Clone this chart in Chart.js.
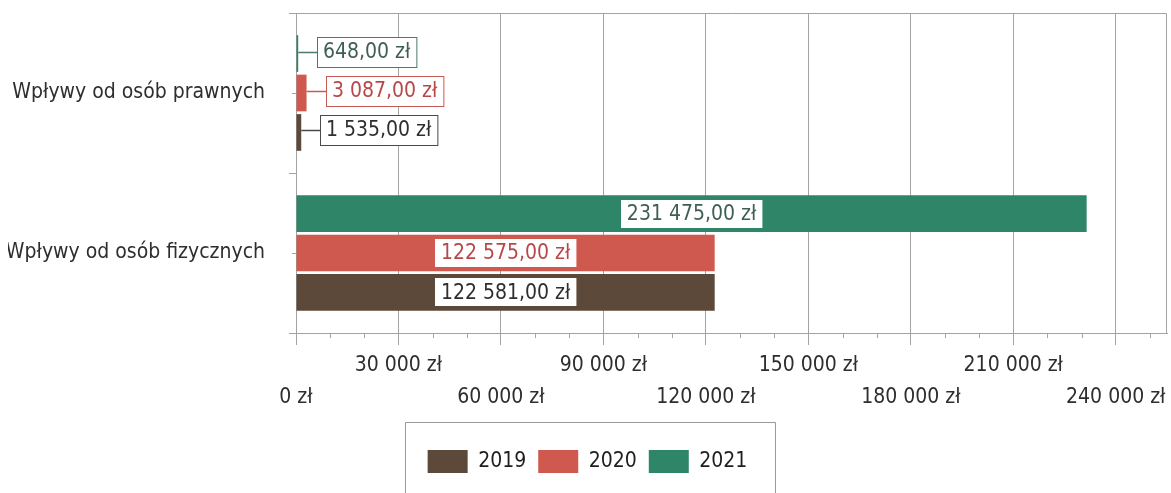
<!DOCTYPE html>
<html>
<head>
<meta charset="utf-8">
<script src="https://cdn.jsdelivr.net/npm/chart.js@4.4.1/dist/chart.umd.min.js"></script>
<style>
  html, body { margin: 0; padding: 0; background: #ffffff; }
  #wrap { width: 1171px; height: 493px; position: relative; }
</style>
</head>
<body>
<div id="wrap"><canvas id="c" width="1171" height="493"></canvas></div>
<script>
const categories = ['Wpływy od osób prawnych', 'Wpływy od osób fizycznych'];
const years = ['2019', '2020', '2021'];
const values2019 = [1535, 122581];
const values2020 = [3087, 122575];
const values2021 = [648, 231475];
const xTickValues = [0, 30000, 60000, 90000, 120000, 150000, 180000, 210000, 240000];
const xMin = 0;
const xMax = 255000;
const xMinorStep = 10000;

const FONT = "'DejaVu Sans Condensed', 'DejaVu Sans', sans-serif";
const seriesStyle = {
  '2019': { fill: '#5d4939', text: '#2e2e2e', border: '#4a4a4a' },
  '2020': { fill: '#cf594f', text: '#b8474a', border: '#c65a55' },
  '2021': { fill: '#2f8567', text: '#3f5f54', border: '#4b7a6a' }
};

function groupThousands(n) {
  return String(n).replace(/\B(?=(\d{3})+(?!\d))/g, ' ');
}
function fmtTick(v) { return groupThousands(v) + ' zł'; }
function fmtValue(v) {
  const s = v.toFixed(2).split('.');
  return groupThousands(s[0]) + ',' + s[1] + ' zł';
}

const frameAndExtras = {
  id: 'frameAndExtras',
  beforeDatasetsDraw(chart) {
    const { ctx, chartArea: a } = chart;
    ctx.save();
    ctx.strokeStyle = '#a3a3a3';
    ctx.lineWidth = 1;
    ctx.beginPath();
    ctx.moveTo(a.left, a.top + 0.5);
    ctx.lineTo(Math.round(a.right) - 0.5, a.top + 0.5);
    ctx.lineTo(Math.round(a.right) - 0.5, a.bottom);
    ctx.stroke();
    // minor ticks on x axis
    const xs = chart.scales.x;
    for (let v = xMin; v <= xMax; v += xMinorStep) {
      if (xTickValues.includes(v)) continue;
      const px = Math.round(xs.getPixelForValue(v)) + 0.5;
      ctx.beginPath();
      ctx.moveTo(px, a.bottom);
      ctx.lineTo(px, a.bottom + 5);
      ctx.stroke();
    }
    // tick marks on y axis (category boundaries and centres)
    const n = categories.length;
    const step = (a.bottom - a.top) / n;
    for (let k = 0; k <= 2 * n; k++) {
      const py = Math.round(a.top + k * step / 2) + 0.5;
      const len = k % 2 === 0 ? 7 : 4;
      ctx.beginPath();
      ctx.moveTo(a.left - len, py);
      ctx.lineTo(a.left, py);
      ctx.stroke();
    }
    ctx.restore();
  },
  afterDatasetsDraw(chart) {
    const ctx = chart.ctx;
    ctx.save();
    ctx.font = '21px ' + FONT;
    ctx.textBaseline = 'middle';
    chart.data.datasets.forEach((ds, di) => {
      const meta = chart.getDatasetMeta(di);
      const st = seriesStyle[ds.label];
      meta.data.forEach((bar, i) => {
        const txt = fmtValue(ds.data[i]);
        const tw = ctx.measureText(txt).width;
        const bw = tw + 12;
        const len = Math.abs(bar.x - bar.base);
        if (len < bw + 20) {
          const x0 = Math.round(bar.x + 19);
          const h = 30;
          const y = Math.round(bar.y) - 2;
          ctx.strokeStyle = st.border;
          ctx.lineWidth = 1.5;
          ctx.beginPath();
          ctx.moveTo(bar.x, y + 0.5);
          ctx.lineTo(x0, y + 0.5);
          ctx.stroke();
          ctx.fillStyle = '#ffffff';
          ctx.fillRect(x0, y - h / 2, bw, h);
          ctx.lineWidth = 1;
          ctx.strokeRect(x0 + 0.5, y - h / 2 + 0.5, bw, h);
          ctx.fillStyle = st.text;
          ctx.textAlign = 'left';
          ctx.fillText(txt, x0 + 6, y + 1);
        } else {
          const cx = (bar.x + bar.base) / 2;
          const h = 28;
          ctx.fillStyle = '#ffffff';
          ctx.fillRect(Math.round(cx - bw / 2), Math.round(bar.y - h / 2), bw, h);
          ctx.fillStyle = st.text;
          ctx.textAlign = 'center';
          ctx.fillText(txt, cx, bar.y + 1);
        }
      });
    });
    ctx.restore();
  },
  afterDraw(chart) {
    const lg = chart.legend;
    if (!lg || !lg.legendHitBoxes || !lg.legendHitBoxes.length) return;
    const hb = lg.legendHitBoxes;
    const first = hb[0], last = hb[hb.length - 1];
    const ctx = chart.ctx;
    ctx.save();
    ctx.strokeStyle = '#9a9a9a';
    ctx.lineWidth = 1;
    const left = Math.round(first.left - 23) + 0.5;
    const right = Math.round(last.left + last.width + 28) + 0.5;
    const top = Math.round(first.top - 28) + 0.5;
    ctx.beginPath();
    ctx.moveTo(left, chart.height + 5);
    ctx.lineTo(left, top);
    ctx.lineTo(right, top);
    ctx.lineTo(right, chart.height + 5);
    ctx.stroke();
    ctx.restore();
  }
};

const datasets = [
  { label: years[2], data: values2021 },
  { label: years[1], data: values2020 },
  { label: years[0], data: values2019 }
].map(d => Object.assign(d, {
  backgroundColor: seriesStyle[d.label].fill,
  borderColor: seriesStyle[d.label].fill,
  borderWidth: 0,
  categoryPercentage: 0.74,
  barPercentage: 0.93
}));

new Chart(document.getElementById('c'), {
  type: 'bar',
  data: { labels: categories, datasets },
  options: {
    indexAxis: 'y',
    responsive: false,
    animation: false,
    layout: { padding: { top: 13, right: 4, bottom: 10, left: 8 } },
    plugins: {
      legend: {
        position: 'bottom',
        reverse: true,
        labels: {
          boxWidth: 40,
          boxHeight: 23,
          padding: 12,
          color: '#1e1e1e',
          font: { family: FONT, size: 21 }
        }
      },
      tooltip: { enabled: false }
    },
    scales: {
      x: {
        type: 'linear',
        min: xMin,
        max: xMax,
        afterBuildTicks(scale) { scale.ticks = xTickValues.map(v => ({ value: v })); },
        afterFit(scale) { scale.height = 105; },
        ticks: {
          maxRotation: 0,
          autoSkip: false,
          padding: 5,
          color: '#2e2e2e',
          font: { family: FONT, size: 21, lineHeight: 32 / 21 },
          callback(value, index) {
            const t = fmtTick(value);
            return index % 2 === 1 ? [t, ''] : ['', t];
          }
        },
        grid: { color: '#a3a3a3', lineWidth: 1, tickLength: 12 },
        border: { color: '#a3a3a3', width: 1 }
      },
      y: {
        afterFit(scale) { scale.width = 288; },
        ticks: {
          padding: 0,
          color: '#2e2e2e',
          font: { family: FONT, size: 21 }
        },
        grid: { drawOnChartArea: false, tickColor: 'rgba(0,0,0,0)', tickLength: 31 },
        border: { color: '#a3a3a3', width: 1 }
      }
    }
  },
  plugins: [frameAndExtras]
});
</script>
</body>
</html>
